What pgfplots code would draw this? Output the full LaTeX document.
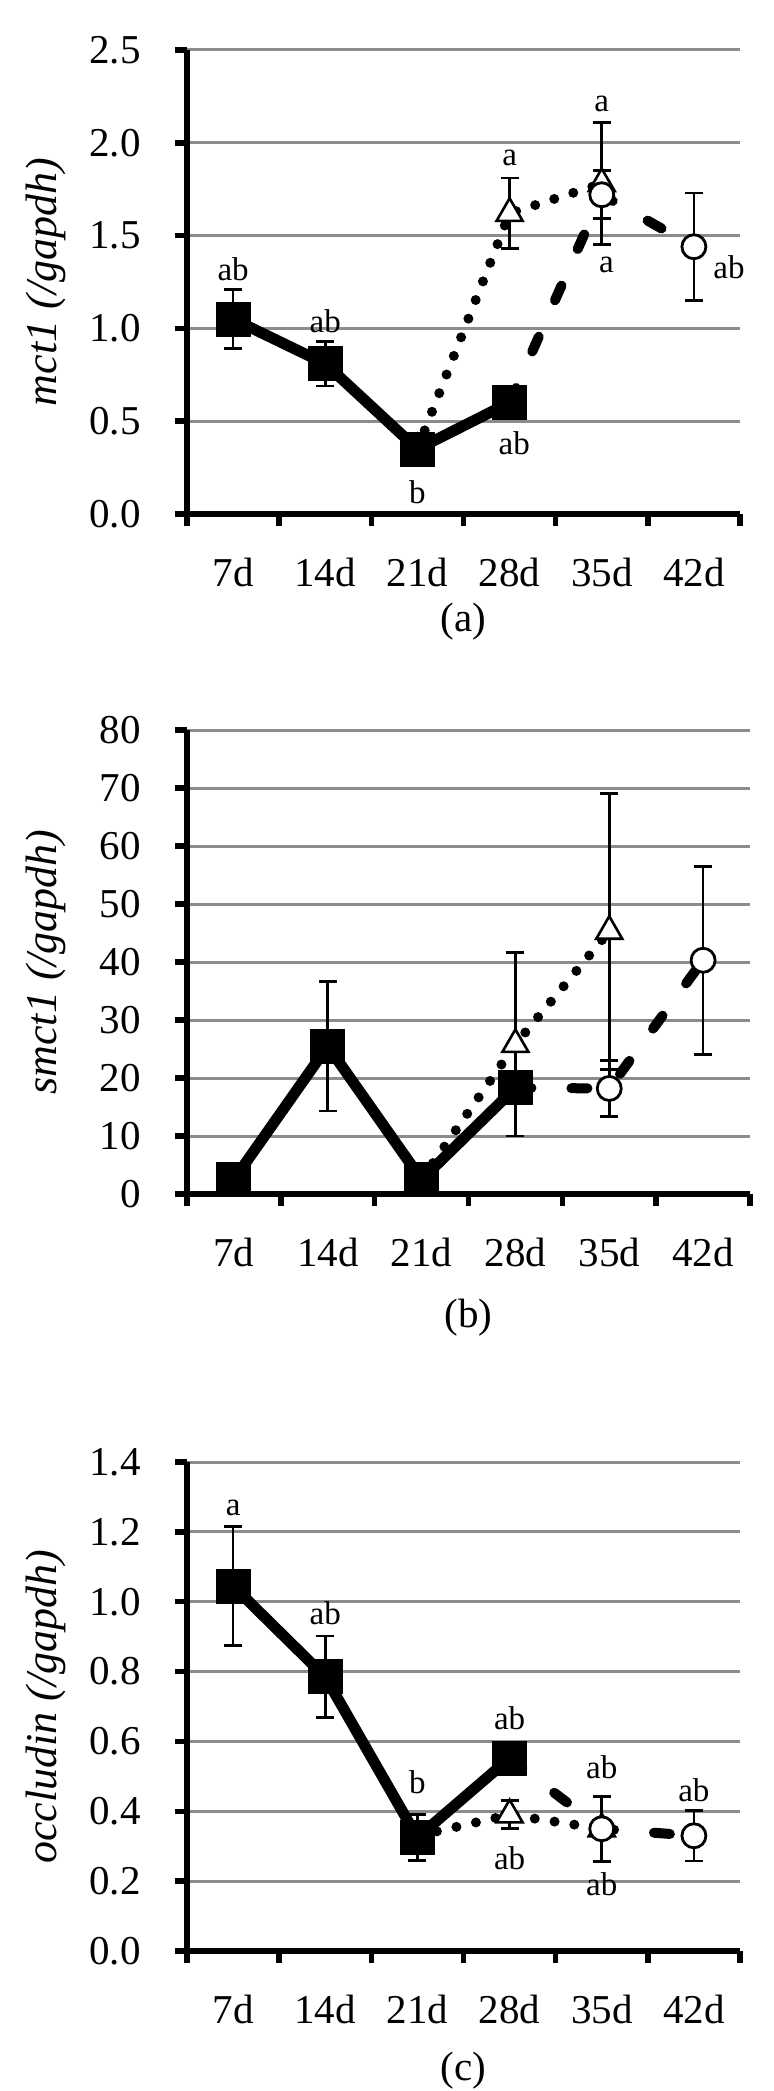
\documentclass[border=0pt]{standalone}
\usepackage{fontspec}
\setmainfont{Liberation Serif}
\usepackage{pgfplots}
\pgfplotsset{compat=1.18}

\definecolor{gridgray}{RGB}{140,140,140}

\tikzset{lett/.style={font=\fontsize{16.5}{19}\selectfont, inner sep=0pt}}

\pgfplotsset{
  panel/.style={
    scale only axis, clip=false,
    axis x line*=bottom, axis y line*=left,
    axis line style={line width=2.75pt, black},
    xmin=0.5, xmax=6.5,
    xtick={0.5,1.5,2.5,3.5,4.5,5.5,6.5},
    xticklabels={,,,,,,},
    extra x ticks={1,2,3,4,5,6},
    extra x tick labels={7d,14d,21d,28d,35d,42d},
    extra x tick style={major tick length=0pt, grid=none},
    tick align=outside, major tick length=6pt,
    tick style={line width=2.75pt, black},
    ymajorgrids, major grid style={line width=1.5pt, gridgray},
    tick label style={font=\fontsize{20.5}{24}\selectfont},
    xticklabel style={anchor=north, inner sep=0pt, yshift=-22pt},
    yticklabel style={anchor=east, inner sep=0pt, xshift=-17pt},
    /pgf/number format/assume math mode=true,
    ylabel style={anchor=center, font=\fontsize{22}{26}\selectfont\itshape},
    xlabel style={at={(axis description cs:0.5,0)}, anchor=center,
      font=\fontsize{20.5}{24}\selectfont},
  },
  sq/.style={black, solid, line width=5.5pt, line join=round,
    mark=square*, mark size=8.5pt, mark options={solid, line width=0.5pt, fill=black}},
  tri/.style={black, line width=5pt, line cap=round, dash pattern=on 0pt off 10pt,
    mark=triangle*, mark size=7.5pt, mark options={solid, fill=white, line width=1.3pt}},
  cir/.style={black, line width=5pt, line cap=round, dash pattern=on 8pt off 20pt,
    mark=*, mark size=6pt, mark options={solid, fill=white, line width=1.4pt}},
  err/.style={error bars/.cd, y dir=both, y explicit,
    error bar style={line width=1.4pt, solid, line cap=butt},
    error mark options={rotate=90, mark size=4.5pt, line width=1.4pt, solid}},
}

\begin{document}
\begin{tikzpicture}
\useasboundingbox (0,0) rectangle (387pt,-1045.5pt);

% (a) mct1
\begin{axis}[panel, at={(93.5pt,-257pt)}, anchor=south west,
  width=276.5pt, height=232pt,
  ymin=0, ymax=2.5, ytick={0,0.5,...,2.5},
  yticklabel style={/pgf/number format/.cd, fixed, fixed zerofill, precision=1},
  ylabel={mct1 (/gapdh)}, ylabel style={at={(axis description cs:-0.255,0.5)}},
  xlabel={(a)}, xlabel style={yshift=-54pt}]
\addplot[tri, err] coordinates {(3,0.35) +- (0,0) (4,1.62) +- (0,0.19) (5,1.78) +- (0,0.33)};
\addplot[cir, err] coordinates {(4,0.60) +- (0,0) (5,1.72) +- (0,0.13) (6,1.44) +- (0,0.29)};
\addplot[sq, err] coordinates {(1,1.05) +- (0,0.16) (2,0.81) +- (0,0.12) (3,0.35) +- (0,0.03) (4,0.60) +- (0,0.04)};
\node[lett] at (axis cs:1,1.32) {ab};
\node[lett] at (axis cs:2,1.04) {ab};
\node[lett] at (axis cs:3,0.12) {b};
\node[lett] at (axis cs:4.05,0.38) {ab};
\node[lett] at (axis cs:4,1.92) {a};
\node[lett] at (axis cs:5,2.21) {a};
\node[lett] at (axis cs:5.05,1.34) {a};
\node[lett] at (axis cs:6.38,1.33) {ab};
\end{axis}

% (b) smct1
\begin{axis}[panel, at={(93.5pt,-597pt)}, anchor=south west,
  width=281.5pt, height=232pt,
  ymin=0, ymax=80, ytick={0,10,...,80},
  ylabel={smct1 (/gapdh)}, ylabel style={at={(axis description cs:-0.25,0.5)}},
  xlabel={(b)}, xlabel style={yshift=-62pt}]
\addplot[tri, err] coordinates {(3,2.5) +- (0,0) (4,25.8) +- (0,15.8) (5,45.3) +- (0,23.8)};
\addplot[cir, err] coordinates {(4,18.3) +- (0,0) (5,18.2) +- (0,4.8) (6,40.3) +- (0,16.2)};
\addplot[sq, err] coordinates {(1,2.5) +- (0,1) (2,25.5) +- (0,11.2) (3,2.5) +- (0,1) (4,18.3) +- (0,2)};
\end{axis}

% (c) occludin
\begin{axis}[panel, at={(93.5pt,-975.5pt)}, anchor=south west,
  width=276.5pt, height=244.5pt,
  ymin=0, ymax=1.4, ytick={0,0.2,...,1.4},
  yticklabel style={/pgf/number format/.cd, fixed, fixed zerofill, precision=1},
  ylabel={occludin (/gapdh)}, ylabel style={at={(axis description cs:-0.255,0.5)}},
  xlabel={(c)}, xlabel style={yshift=-60pt}]
\addplot[tri, err] coordinates {(3,0.33) +- (0,0) (4,0.39) +- (0,0.04) (5,0.35) +- (0,0)};
\addplot[cir, err] coordinates {(4,0.55) +- (0,0) (5,0.35) +- (0,0.093) (6,0.33) +- (0,0.072)};
\addplot[sq, err] coordinates {(1,1.045) +- (0,0.17) (2,0.785) +- (0,0.117) (3,0.325) +- (0,0.065) (4,0.552) +- (0,0.03)};
\node[lett] at (axis cs:1,1.27) {a};
\node[lett] at (axis cs:2,0.966) {ab};
\node[lett] at (axis cs:3,0.484) {b};
\node[lett] at (axis cs:4,0.667) {ab};
\node[lett] at (axis cs:4,0.267) {ab};
\node[lett] at (axis cs:5,0.525) {ab};
\node[lett] at (axis cs:5,0.19) {ab};
\node[lett] at (axis cs:6,0.46) {ab};
\end{axis}
\end{tikzpicture}
\end{document}
